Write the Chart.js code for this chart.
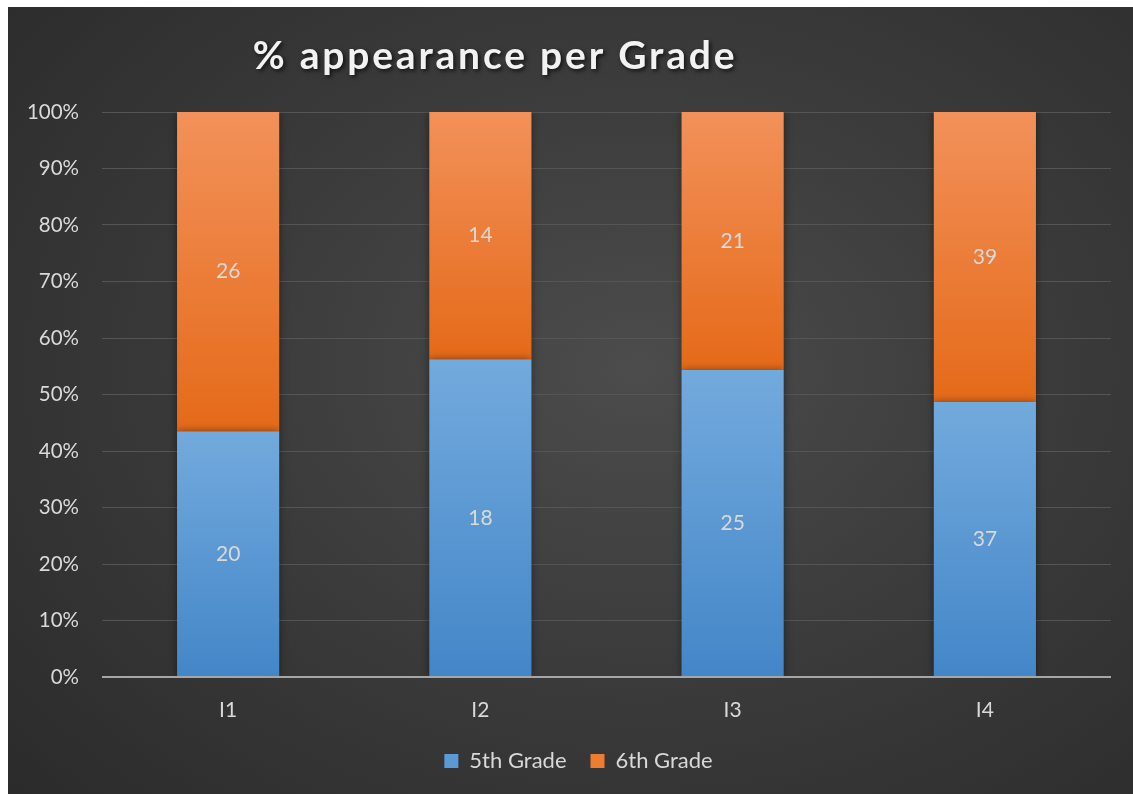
<!DOCTYPE html>
<html lang="en">
<head>
  <meta charset="UTF-8" />
  <title>% appearance per Grade</title>
  <script src="https://cdn.jsdelivr.net/npm/chart.js"></script>
  <style>
    body {
      margin: 0;
      padding: 0;
      background-color: #ffffff;
      font-family: 'Lato', sans-serif;
    }

    #chartBox {
      position: absolute;
      left: 8px;
      top: 7px;
      width: 1125px;
      height: 787px;
      background: radial-gradient(ellipse 75% 80% at 56% 46%, #4c4c4c 0%, #3c3c3c 45%, #2b2b2b 100%);
    }
  </style>
</head>
<body>

  <div id="chartBox">
    <canvas id="gradeChart"></canvas>
  </div>

  <script>
    // 인원 수 (학년별)
    const categories = ['I1', 'I2', 'I3', 'I4'];
    const grade5Counts = [20, 18, 25, 37];
    const grade6Counts = [26, 14, 21, 39];
    const yTicks = [0, 10, 20, 30, 40, 50, 60, 70, 80, 90, 100];

    // 막대 높이는 각 항목 합계 대비 비율
    const grade5Pct = grade5Counts.map((v, i) => v / (v + grade6Counts[i]) * 100);
    const grade6Pct = grade6Counts.map((v, i) => v / (grade5Counts[i] + v) * 100);

    const textColor = '#d9d9d9';
    const fontFamily = "'Lato', sans-serif";

    // 막대마다 위→아래 그라데이션
    function barGradient(ctx, topColor, bottomColor) {
      const chart = ctx.chart;
      if (!chart.chartArea || ctx.type !== 'data') return bottomColor;
      const y = chart.scales.y;
      const i = ctx.dataIndex;
      let from, to;
      if (ctx.datasetIndex === 0) {
        from = y.getPixelForValue(grade5Pct[i]);
        to = y.getPixelForValue(0);
      } else {
        from = y.getPixelForValue(100);
        to = y.getPixelForValue(grade5Pct[i]);
      }
      const g = chart.ctx.createLinearGradient(0, from, 0, to);
      g.addColorStop(0, topColor);
      g.addColorStop(1, bottomColor);
      return g;
    }

    // 제목, 막대 그림자, 값 라벨, 0% 축선
    const decorPlugin = {
      id: 'decor',
      afterLayout(chart) {
        // 범례를 캔버스 가운데 쪽으로 약간 이동
        if (chart.legend) {
          chart.legend.left += 19;
          chart.legend.right += 19;
        }
      },
      beforeDatasetsDraw(chart) {
        const ctx = chart.ctx;
        ctx.save();
        ctx.shadowColor = 'rgba(0,0,0,0.45)';
        ctx.shadowBlur = 8;
        ctx.shadowOffsetX = 0;
        ctx.shadowOffsetY = 0;
      },
      afterDatasetsDraw(chart) {
        const ctx = chart.ctx;
        ctx.restore();

        // 0% 축선
        const y0 = chart.scales.y.getPixelForValue(0);
        ctx.save();
        ctx.strokeStyle = '#a6a6a6';
        ctx.lineWidth = 2;
        ctx.beginPath();
        ctx.moveTo(chart.chartArea.left, y0);
        ctx.lineTo(chart.chartArea.right, y0);
        ctx.stroke();
        ctx.restore();

        // 값 라벨 (인원 수)
        const counts = [grade5Counts, grade6Counts];
        ctx.save();
        ctx.fillStyle = textColor;
        ctx.font = "21px " + fontFamily;
        ctx.textAlign = 'center';
        ctx.textBaseline = 'middle';
        chart.data.datasets.forEach((ds, di) => {
          chart.getDatasetMeta(di).data.forEach((bar, i) => {
            const mid = (bar.y + bar.base) / 2;
            ctx.fillText(String(counts[di][i]), bar.x, mid);
          });
        });
        ctx.restore();
      },
      afterDraw(chart) {
        const ctx = chart.ctx;
        ctx.save();
        ctx.font = "bold 39px " + fontFamily;
        ctx.letterSpacing = '2.8px';
        ctx.textAlign = 'center';
        ctx.textBaseline = 'alphabetic';
        ctx.shadowColor = 'rgba(0,0,0,0.7)';
        ctx.shadowBlur = 4;
        ctx.shadowOffsetX = 2;
        ctx.shadowOffsetY = 2;
        ctx.fillStyle = '#f2f2f2';
        ctx.fillText('% appearance per Grade', 487, 62);
        ctx.restore();
      }
    };

    const ctx = document.getElementById('gradeChart').getContext('2d');
    new Chart(ctx, {
      type: 'bar',
      data: {
        labels: categories,
        datasets: [
          {
            label: '5th Grade',
            data: grade5Pct,
            backgroundColor: (c) => barGradient(c, '#73aadd', '#4386c8'),
            borderWidth: 0
          },
          {
            label: '6th Grade',
            data: grade6Pct,
            backgroundColor: (c) => barGradient(c, '#f2915a', '#e56a19'),
            borderWidth: 0
          }
        ]
      },
      options: {
        responsive: true,
        maintainAspectRatio: false,
        animation: false,
        datasets: {
          bar: {
            barPercentage: 1,
            categoryPercentage: 0.405
          }
        },
        layout: {
          padding: { top: 105, right: 22, bottom: 12, left: 0 }
        },
        plugins: {
          title: { display: false },
          tooltip: { enabled: false },
          legend: {
            display: true,
            position: 'bottom',
            labels: {
              color: textColor,
              font: { size: 22, family: fontFamily },
              boxWidth: 14,
              boxHeight: 14,
              padding: 24,
              generateLabels: (chart) => [
                { text: '5th Grade', fillStyle: '#5b9bd5', strokeStyle: '#5b9bd5', lineWidth: 0, datasetIndex: 0, fontColor: textColor },
                { text: '6th Grade', fillStyle: '#ed7d31', strokeStyle: '#ed7d31', lineWidth: 0, datasetIndex: 1, fontColor: textColor }
              ]
            }
          }
        },
        scales: {
          x: {
            stacked: true,
            afterFit: (scale) => { scale.height = 49; },
            grid: { display: false, drawTicks: false },
            border: { display: false },
            ticks: {
              color: textColor,
              font: { size: 21, family: fontFamily },
              padding: 21
            }
          },
          y: {
            stacked: true,
            min: 0,
            max: 100,
            afterFit: (scale) => { scale.width = 94; },
            afterBuildTicks: (scale) => {
              scale.ticks = yTicks.map(v => ({ value: v }));
            },
            grid: {
              color: '#555555',
              lineWidth: 1,
              drawTicks: false
            },
            border: { display: false },
            ticks: {
              color: textColor,
              font: { size: 20.5, family: fontFamily },
              padding: 23,
              callback: (v) => v + '%'
            }
          }
        }
      },
      plugins: [decorPlugin]
    });
  </script>
</body>
</html>
